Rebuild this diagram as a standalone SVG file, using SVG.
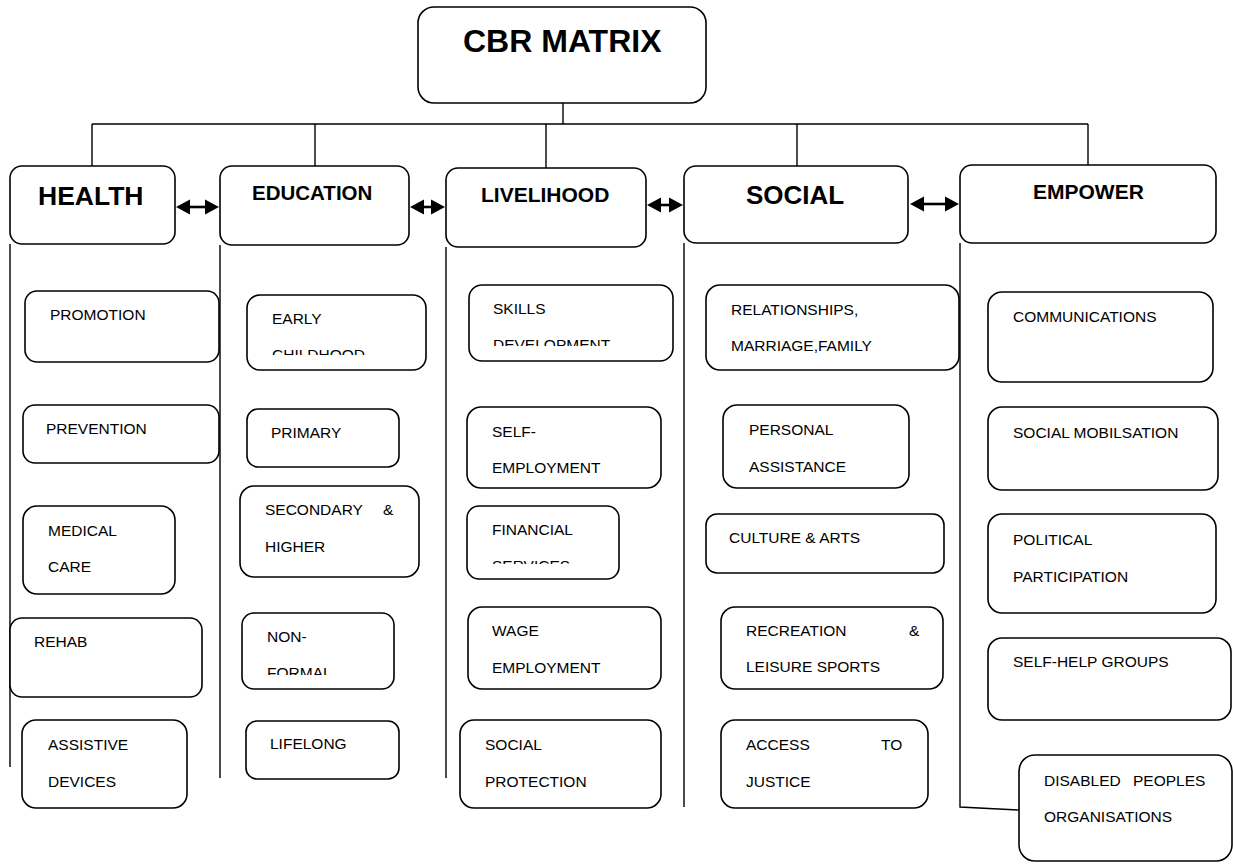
<svg xmlns="http://www.w3.org/2000/svg" width="1233" height="864" viewBox="0 0 1233 864">
<style>
.b{fill:#fff;stroke:#000;stroke-width:1.6}
.l{fill:none;stroke:#000;stroke-width:1.4}
.a{fill:none;stroke:#000;stroke-width:2.6}
.hd{fill:#000;stroke:none}
.h{font-family:"Liberation Sans",Arial,sans-serif;font-weight:bold;fill:#000}
.t{font-family:"Liberation Sans",Arial,sans-serif;font-size:15.5px;fill:#000}
</style>
<defs>
<clipPath id="c1"><rect x="247" y="295" width="180" height="60"/></clipPath>
<clipPath id="c2"><rect x="469" y="285" width="205" height="61"/></clipPath>
<clipPath id="c3"><rect x="467" y="506" width="153" height="58"/></clipPath>
<clipPath id="c4"><rect x="242" y="613" width="153" height="62"/></clipPath>
</defs>
<rect width="1233" height="864" fill="#fff"/>
<g id="connectors">
<path class="l" d="M563,103 V124 M92,124 H1088 M92,124 V166 M315,124 V166 M546,124 V168 M797,124 V166 M1088,124 V165"/>
<path class="l" d="M10,244 V767 M220,245 V778 M446,247 V778 M684,243 V807 M960,243 V807 L1019,810"/>
<path class="a" d="M185,207 H210"/>
<polygon class="hd" points="176,207 190,199.5 190,214.5"/>
<polygon class="hd" points="219,207 205,199.5 205,214.5"/>
<path class="a" d="M418,207 H436"/>
<polygon class="hd" points="410,207 424,199.5 424,214.5"/>
<polygon class="hd" points="445,207 431,199.5 431,214.5"/>
<path class="a" d="M655,205 H675"/>
<polygon class="hd" points="647,205 661,197.5 661,212.5"/>
<polygon class="hd" points="683,205 669,197.5 669,212.5"/>
<path class="a" d="M918,204 H950"/>
<polygon class="hd" points="910,204 924,196.5 924,211.5"/>
<polygon class="hd" points="959,204 945,196.5 945,211.5"/>
</g>
<g id="cbr"><rect class="b" x="418" y="7" width="288" height="96" rx="16"/><text class="h" x="463" y="52" font-size="32">CBR MATRIX</text></g>
<g id="health"><rect class="b" x="10" y="166" width="165" height="78" rx="12"/><text class="h" x="38" y="205" font-size="26.5">HEALTH</text></g>
<g id="education"><rect class="b" x="220" y="166" width="189" height="79" rx="12"/><text class="h" x="252" y="200" font-size="20.5">EDUCATION</text></g>
<g id="livelihood"><rect class="b" x="446" y="168" width="200" height="79" rx="12"/><text class="h" x="481" y="202" font-size="21">LIVELIHOOD</text></g>
<g id="social"><rect class="b" x="684" y="166" width="224" height="77" rx="12"/><text class="h" x="746" y="204" font-size="26">SOCIAL</text></g>
<g id="empower"><rect class="b" x="960" y="165" width="256" height="78" rx="12"/><text class="h" x="1033" y="199" font-size="21">EMPOWER</text></g>

<g id="promotion"><rect class="b" x="25" y="291" width="194" height="71" rx="12"/><text class="t" x="50" y="320">PROMOTION</text></g>
<g id="prevention"><rect class="b" x="23" y="405" width="196" height="58" rx="12"/><text class="t" x="46" y="434">PREVENTION</text></g>
<g id="medical"><rect class="b" x="23" y="506" width="152" height="88" rx="14"/><text class="t" x="48" y="536">MEDICAL</text><text class="t" x="48" y="572">CARE</text></g>
<g id="rehab"><rect class="b" x="10" y="618" width="192" height="79" rx="12"/><text class="t" x="34" y="647">REHAB</text></g>
<g id="assistive"><rect class="b" x="22" y="720" width="165" height="88" rx="14"/><text class="t" x="48" y="750">ASSISTIVE</text><text class="t" x="48" y="787">DEVICES</text></g>

<g id="early"><rect class="b" x="247" y="295" width="179" height="75" rx="13"/><g clip-path="url(#c1)"><text class="t" x="272" y="324">EARLY</text><text class="t" x="272" y="360">CHILDHOOD</text></g></g>
<g id="primary"><rect class="b" x="247" y="409" width="152" height="58" rx="11"/><text class="t" x="271" y="438">PRIMARY</text></g>
<g id="secondary"><rect class="b" x="240" y="486" width="179" height="91" rx="14"/><text class="t" x="265" y="515">SECONDARY</text><text class="t" x="383" y="515">&amp;</text><text class="t" x="265" y="552">HIGHER</text></g>
<g id="nonformal"><rect class="b" x="242" y="613" width="152" height="76" rx="12"/><g clip-path="url(#c4)"><text class="t" x="267" y="642">NON-</text><text class="t" x="267" y="678">FORMAL</text></g></g>
<g id="lifelong"><rect class="b" x="246" y="721" width="153" height="58" rx="11"/><text class="t" x="270" y="749">LIFELONG</text></g>

<g id="skills"><rect class="b" x="469" y="285" width="204" height="76" rx="13"/><g clip-path="url(#c2)"><text class="t" x="493" y="314">SKILLS</text><text class="t" x="493" y="350">DEVELOPMENT</text></g></g>
<g id="selfemp"><rect class="b" x="467" y="407" width="194" height="81" rx="14"/><text class="t" x="492" y="437">SELF-</text><text class="t" x="492" y="473">EMPLOYMENT</text></g>
<g id="financial"><rect class="b" x="467" y="506" width="152" height="73" rx="12"/><g clip-path="url(#c3)"><text class="t" x="492" y="535">FINANCIAL</text><text class="t" x="492" y="571">SERVICES</text></g></g>
<g id="wage"><rect class="b" x="468" y="607" width="193" height="82" rx="14"/><text class="t" x="492" y="636">WAGE</text><text class="t" x="492" y="673">EMPLOYMENT</text></g>
<g id="socprot"><rect class="b" x="460" y="720" width="201" height="88" rx="14"/><text class="t" x="485" y="750">SOCIAL</text><text class="t" x="485" y="787">PROTECTION</text></g>

<g id="relationships"><rect class="b" x="706" y="285" width="253" height="85" rx="14"/><text class="t" x="731" y="315">RELATIONSHIPS,</text><text class="t" x="731" y="351">MARRIAGE,FAMILY</text></g>
<g id="personal"><rect class="b" x="723" y="405" width="186" height="83" rx="14"/><text class="t" x="749" y="435">PERSONAL</text><text class="t" x="749" y="472">ASSISTANCE</text></g>
<g id="culture"><rect class="b" x="706" y="514" width="238" height="59" rx="11"/><text class="t" x="729" y="543">CULTURE &amp; ARTS</text></g>
<g id="recreation"><rect class="b" x="721" y="607" width="222" height="82" rx="14"/><text class="t" x="746" y="636">RECREATION</text><text class="t" x="909" y="636">&amp;</text><text class="t" x="746" y="672">LEISURE SPORTS</text></g>
<g id="justice"><rect class="b" x="721" y="720" width="207" height="88" rx="14"/><text class="t" x="746" y="750">ACCESS</text><text class="t" x="881" y="750">TO</text><text class="t" x="746" y="787">JUSTICE</text></g>

<g id="communications"><rect class="b" x="988" y="292" width="225" height="90" rx="14"/><text class="t" x="1013" y="322">COMMUNICATIONS</text></g>
<g id="mobilisation"><rect class="b" x="988" y="407" width="230" height="83" rx="14"/><text class="t" x="1013" y="438">SOCIAL MOBILSATION</text></g>
<g id="political"><rect class="b" x="988" y="514" width="228" height="99" rx="14"/><text class="t" x="1013" y="545">POLITICAL</text><text class="t" x="1013" y="582">PARTICIPATION</text></g>
<g id="selfhelp"><rect class="b" x="988" y="638" width="243" height="82" rx="14"/><text class="t" x="1013" y="667">SELF-HELP GROUPS</text></g>
<g id="dpo"><rect class="b" x="1019" y="755" width="213" height="106" rx="16"/><text class="t" x="1044" y="786">DISABLED</text><text class="t" x="1133" y="786">PEOPLES</text><text class="t" x="1044" y="822">ORGANISATIONS</text></g>
</svg>
